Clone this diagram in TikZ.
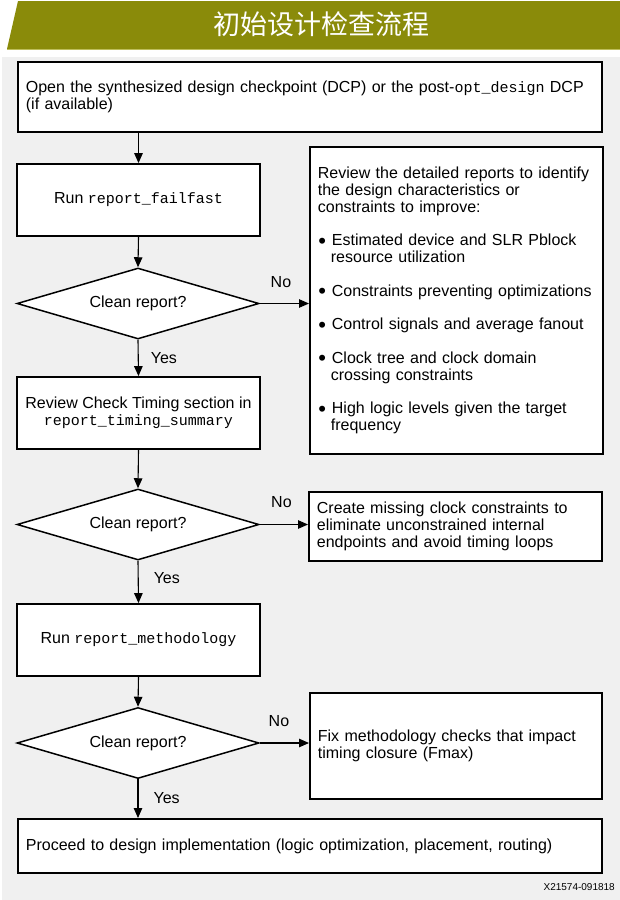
\documentclass[tikz,border=0pt]{standalone}
\usepackage{fontspec}
\setmainfont{Liberation Sans}
\setmonofont{Liberation Mono}
\newfontfamily\cjkfont{Noto Sans CJK SC}
\usetikzlibrary{shapes.geometric,arrows.meta,calc}
\definecolor{olivebar}{RGB}{138,139,10}
\definecolor{oliveline}{RGB}{190,190,90}
\definecolor{bggrey}{RGB}{240,240,240}
\newcommand\mycode[1]{{\fontsize{15}{17}\selectfont\ttfamily #1}}
\newcommand\mybul{\makebox[14pt][l]{\hspace*{0.5pt}\raisebox{-2.6pt}[0pt][0pt]{\fontsize{22}{17}\selectfont\textbullet}}}
\begin{document}
\begin{tikzpicture}[x=1pt,y=-1pt,
  every node/.style={font=\fontsize{16}{17}\selectfont},
  box/.style={draw=black, line width=1.8pt, fill=white, inner sep=0pt},
  decision/.style={draw=black, line width=1.5pt, fill=white, diamond, aspect=3.4,
    minimum width=242pt, minimum height=71pt, inner sep=0pt},
  flow/.style={line width=1.1pt, -{Triangle[length=10pt,width=8.5pt]}},
  lbl/.style={font=\fontsize{16}{17}\selectfont, inner sep=0pt},
]
\useasboundingbox (0,0) rectangle (620,900);
% background and title bar
\fill[bggrey] (2,57) rectangle (620,900);
\fill[olivebar] (18,1) -- (620,1) -- (620,49) -- (7,49) -- cycle;
\draw[oliveline, line width=0.8pt] (7,49.4) -- (620,49.4);
\node[font=\cjkfont\fontsize{27}{30}\selectfont, text=white] (title) at (321,24) {初始设计检查流程};

% main column
\node[box, anchor=north west, minimum width=584pt, minimum height=70pt, text width=568pt, align=left] (open) at (17,61)
  {Open the synthesized design checkpoint (DCP) or the post-\mycode{opt\_design} DCP\\(if available)};
\node[box, minimum width=243pt, minimum height=72pt] (fail) at (138.5,200) {Run \mycode{report\_failfast}};
\node[decision] (c1) at (138,303.5) {Clean report?};
\node[box, minimum width=243pt, minimum height=72pt, align=center] (review) at (138.5,413)
  {Review Check Timing section in\\\mycode{report\_timing\_summary}};
\node[decision] (c2) at (138,524.5) {Clean report?};
\node[box, minimum width=243pt, minimum height=72pt] (meth) at (138.5,640) {Run \mycode{report\_methodology}};
\node[decision] (c3) at (138,743) {Clean report?};
\node[box, anchor=north west, minimum width=584pt, minimum height=54pt, text width=568pt, align=left] (proceed) at (17,818)
  {Proceed to design implementation (logic optimization, placement, routing)};

% right column
\node[box, anchor=north west, minimum width=293pt, minimum height=307pt, text width=277pt, align=left] (info) at (309,146)
  {Review the detailed reports to identify\\the design characteristics or\\constraints to improve:\\[16.5pt]
   \mybul Estimated device and SLR Pblock\\\hspace*{13pt}resource utilization\\[16.5pt]
   \mybul Constraints preventing optimizations\\[16.5pt]
   \mybul Control signals and average fanout\\[16.5pt]
   \mybul Clock tree and clock domain\\\hspace*{13pt}crossing constraints\\[16.5pt]
   \mybul High logic levels given the target\\\hspace*{13pt}frequency};
\node[box, anchor=north west, minimum width=293pt, minimum height=69pt, text width=277pt, align=left] (clk) at (308,491)
  {Create missing clock constraints to\\eliminate unconstrained internal\\endpoints and avoid timing loops};
\node[box, anchor=north west, minimum width=292pt, minimum height=106pt, text width=276pt, align=left] (fix) at (309,692)
  {Fix methodology checks that impact\\timing closure (Fmax)};

% footer
\node[font=\fontsize{10}{12}\selectfont, anchor=east, inner sep=0pt] (code) at (615,887) {X21574-091818};

% connectors
\draw[flow] (fail.north |- open.south) -- (fail.north);
\draw[flow] (fail.south) -- (c1.north);
\draw[flow] (c1.south) -- node[lbl, anchor=west, xshift=12pt] {Yes} (review.north);
\draw[flow] (c1.east) -- node[lbl, anchor=south, pos=0.43, yshift=15pt] {No} (c1.east -| info.west);
\draw[flow] (review.south) -- (c2.north);
\draw[flow] (c2.south) -- node[lbl, anchor=west, xshift=15pt, pos=0.42] {Yes} (meth.north);
\draw[flow] (c2.east) -- node[lbl, anchor=south, pos=0.45, yshift=16pt] {No} (c2.east -| clk.west);
\draw[flow] (meth.south) -- (c3.north);
\draw[flow] (c3.south) -- node[lbl, anchor=west, xshift=15pt, pos=0.48] {Yes} (c3.south |- proceed.north);
\draw[flow] (c3.east) -- node[lbl, anchor=south, pos=0.39, yshift=16pt] {No} (c3.east -| fix.west);
\end{tikzpicture}
\end{document}
